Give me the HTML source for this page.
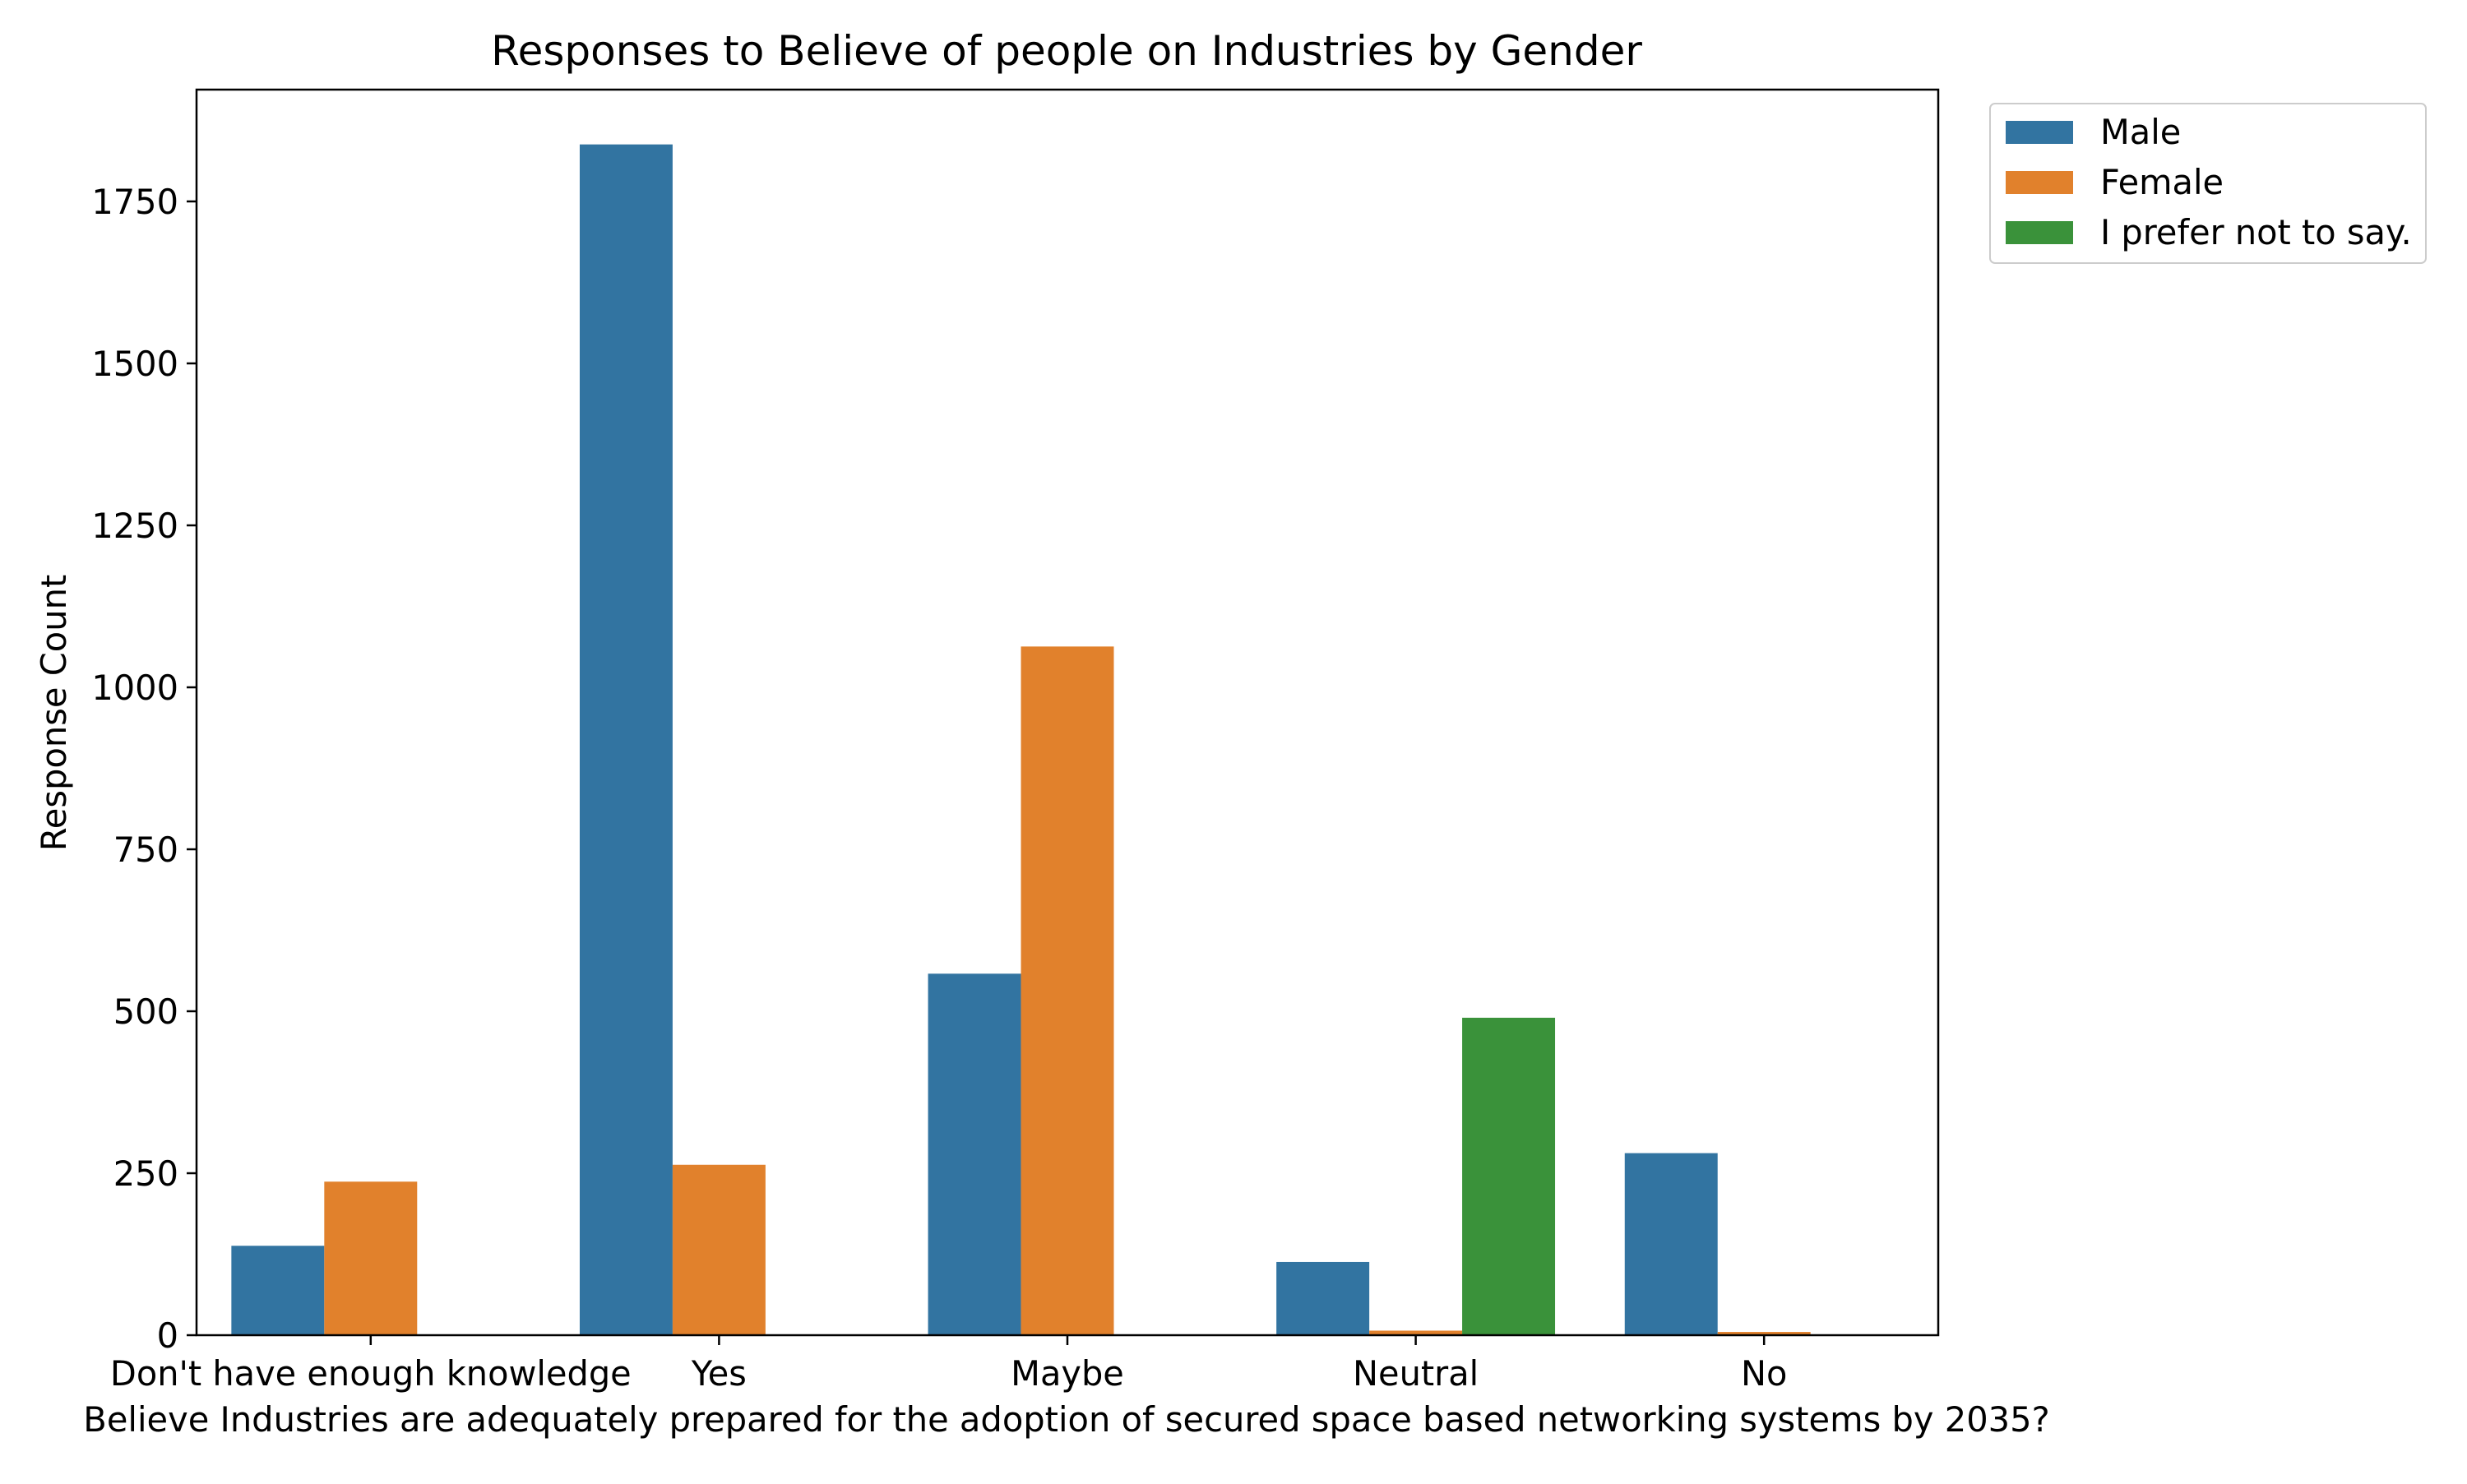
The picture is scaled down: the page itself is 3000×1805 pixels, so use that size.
<!DOCTYPE html>
<html><head><meta charset="utf-8"><style>
html,body{margin:0;padding:0;background:#fff;}
svg text{font-family:"DejaVu Sans","Liberation Sans",sans-serif;fill:#000;}
</style></head><body>
<svg id="chart" width="3000" height="1800" viewBox="0 0 3000 1800" xmlns="http://www.w3.org/2000/svg">
<rect width="3000" height="1800" fill="#fff"/>
<g id="bars"></g>
<g id="axes"></g>
<text x="1297" y="79" font-size="50" text-anchor="middle">Responses to Believe of people on Industries by Gender</text>
<text x="1297" y="1741" font-size="41.6" text-anchor="middle">Believe Industries are adequately prepared for the adoption of secured space based networking systems by 2035?</text>
<text x="0" y="0" font-size="41.6" text-anchor="middle" transform="translate(80,867) rotate(-90)">Response Count</text>
<g id="legend">
<rect x="2420" y="126" width="530" height="194" rx="6" fill="#fff" stroke="#ccc" stroke-width="2"/>
</g>
</svg>
<script>
const categories = ["Don't have enough knowledge","Yes","Maybe","Neutral","No"];
const seriesNames = ["Male","Female","I prefer not to say."];
const maleValues = [138,1838,558,113,281];
const femaleValues = [237,263,1063,7,5];
const preferValues = [0,0,0,490,0];
const yTicks = [0,250,500,750,1000,1250,1500,1750];

const colors = ["#3274a1","#e1812c","#3a923a"];
const L=239,R=2357,T=109,B=1624;
const yPerUnit=(1624-245)/1750;
const band=(R-L)/categories.length;
const barW=band*0.8/3;
const NS="http://www.w3.org/2000/svg";
function y(v){return B-v*yPerUnit;}
function x(i){return L+(i+0.5)*band;}
function mk(tag,attrs,parent){const e=document.createElementNS(NS,tag);for(const k in attrs)e.setAttribute(k,attrs[k]);parent.appendChild(e);return e;}
const bars=document.getElementById('bars');
const series=[maleValues,femaleValues,preferValues];
series.forEach((vals,s)=>{
  vals.forEach((v,i)=>{
    if(v<=0)return;
    const r=mk('rect',{x:x(i)-1.5*barW+s*barW,y:y(v),width:barW,height:B-y(v),fill:colors[s]},bars);
    
    
  });
});
const axes=document.getElementById('axes');
const frame=mk('rect',{x:L,y:T,width:R-L,height:B-T,fill:'none',stroke:'#000','stroke-width':2.5},axes);


yTicks.forEach(t=>{
  mk('line',{x1:L-12,x2:L,y1:y(t),y2:y(t),stroke:'#000','stroke-width':2.5},axes);
  const tx=mk('text',{x:L-22,y:y(t)+15,'font-size':41.5,'text-anchor':'end'},axes);
  tx.textContent=t;
  
  
});
categories.forEach((c,i)=>{
  mk('line',{x1:x(i),x2:x(i),y1:B,y2:B+12,stroke:'#000','stroke-width':2.5},axes);
  const tx=mk('text',{x:x(i),y:B+61,'font-size':41.5,'text-anchor':'middle'},axes);
  tx.textContent=c;
  
  
});
const lg=document.getElementById('legend');
seriesNames.forEach((n,s)=>{
  const cy=161+s*61;
  const p=mk('rect',{x:2439,y:cy-14,width:82,height:28,fill:colors[s]},lg);
  
  
  const t=mk('text',{x:2554,y:cy+14,'font-size':41.5},lg);
  t.textContent=n;
  
  
});
</script>
</body></html>
